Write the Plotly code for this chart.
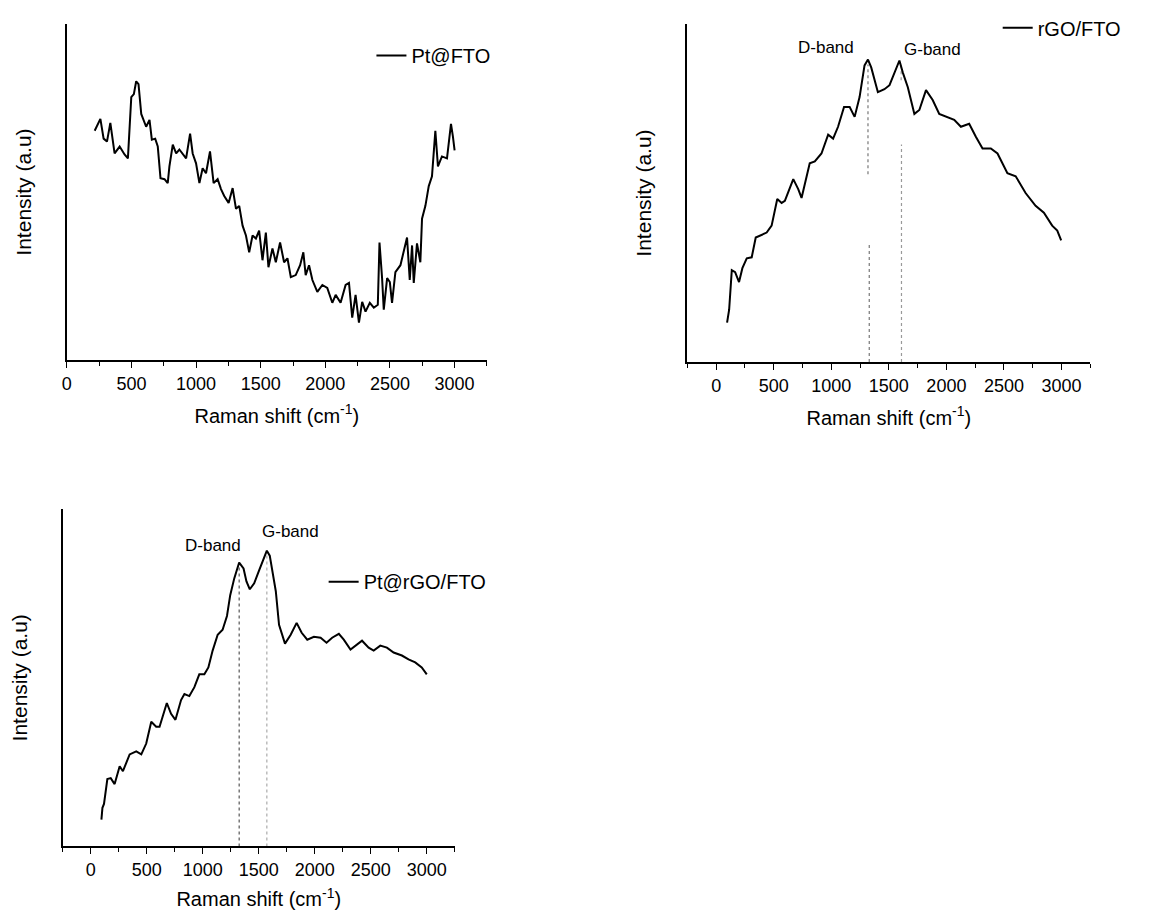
import plotly.graph_objects as go

# ---------------- data ----------------
# Panel 1: Pt@FTO
pt_fto_x = [216, 260, 285, 311, 337, 370, 409, 447, 473, 499, 519, 537, 555, 576, 614, 640, 658, 684, 704, 725,
            756, 781, 794, 820, 846, 871, 923, 954, 974, 1000, 1026, 1051, 1077, 1108, 1136, 1167, 1193, 1218,
            1252, 1283, 1309, 1334, 1360, 1386, 1411, 1437, 1463, 1488, 1514, 1540, 1560, 1591, 1617, 1650,
            1681, 1707, 1733, 1771, 1805, 1830, 1848, 1874, 1900, 1938, 1977, 2015, 2054, 2080, 2118, 2157,
            2183, 2208, 2234, 2260, 2285, 2311, 2344, 2375, 2406, 2419, 2439, 2452, 2478, 2499, 2516, 2542,
            2581, 2607, 2632, 2653, 2671, 2684, 2709, 2735, 2748, 2774, 2800, 2825, 2851, 2871, 2902, 2941,
            2972, 2987, 3000]
pt_fto_y = [232, 244, 224, 221, 240, 209, 216, 208, 204, 266, 269, 282, 279, 249, 236, 243, 223, 224, 216, 184,
            183, 179, 196, 218, 209, 213, 204, 229, 209, 199, 179, 194, 189, 211, 179, 183, 173, 166,
            159, 174, 153, 156, 136, 126, 109, 126, 123, 131, 101, 129, 94, 113, 99, 119,
            99, 103, 84, 86, 96, 109, 86, 96, 81, 69, 76, 73, 58, 66, 58, 76,
            78, 43, 66, 38, 59, 49, 58, 53, 56, 119, 83, 51, 83, 79, 58, 89,
            96, 109, 124, 81, 116, 78, 118, 99, 143, 156, 176, 186, 232, 196, 206, 204,
            239, 226, 212]

# Panel 2: rGO/FTO
rgo_fto_x = [95, 113, 136, 165, 199, 228, 266, 309, 344, 389, 439, 482, 531, 569, 597, 670, 713, 742, 813, 857,
             915, 973, 1016, 1059, 1111, 1160, 1203, 1246, 1289, 1319, 1347, 1405, 1462, 1506, 1549, 1592,
             1621, 1665, 1722, 1765, 1823, 1881, 1938, 2011, 2068, 2126, 2198, 2256, 2314, 2386, 2444, 2530,
             2602, 2688, 2775, 2847, 2919, 2963, 2997]
rgo_fto_y = [40, 53, 93, 91, 81, 95, 105, 106, 126, 128, 131, 138, 165, 161, 163, 185, 175, 166, 201, 203,
             211, 230, 226, 238, 258, 258, 248, 268, 300, 306, 298, 273, 276, 280, 293, 305,
             293, 278, 251, 255, 275, 265, 251, 248, 245, 238, 241, 228, 216, 216, 211, 191,
             188, 171, 158, 151, 138, 133, 123]

# Panel 3: Pt@rGO/FTO
pt_rgo_x = [95, 104, 118, 148, 178, 213, 258, 287, 347, 406, 451, 495, 540, 584, 614, 679, 717, 756, 806, 836,
            880, 925, 969, 1014, 1050, 1088, 1133, 1177, 1216, 1245, 1281, 1325, 1364, 1390, 1420, 1459,
            1503, 1548, 1572, 1598, 1622, 1652, 1681, 1734, 1785, 1838, 1883, 1933, 1992, 2052, 2105, 2155,
            2215, 2259, 2319, 2363, 2422, 2481, 2526, 2585, 2644, 2704, 2778, 2837, 2897, 2955, 3000]
pt_rgo_y = [27, 39, 43, 68, 69, 63, 81, 76, 93, 96, 93, 104, 126, 121, 121, 145, 134, 128, 148, 154,
            152, 161, 174, 174, 181, 198, 214, 219, 233, 254, 271, 287, 281, 268, 260, 266,
            279, 293, 299, 294, 279, 258, 224, 205, 214, 226, 216, 209, 212, 211, 206, 211,
            215, 209, 199, 203, 208, 201, 198, 203, 201, 196, 193, 189, 186, 181, 174]

# band markers: (position, top, bottom) of dotted lines
rgo_d_band = [(1319, 301, 190), (1330, 121, 0)]
rgo_g_band = [(1607, 300, 285), (1610, 220, 0)]
ptrgo_d_band = [(1325, 287, 0)]
ptrgo_g_band = [(1572, 299, 0)]

x_ticks = [0, 500, 1000, 1500, 2000, 2500, 3000]
x_title = "Raman shift (cm<sup>-1</sup>)"
y_title = "Intensity (a.u)"

# ---------------- figure ----------------
OFF = 8                     # page (body) margin of the html page
W, H = 1165 - 2 * OFF, 918 - 2 * OFF
FONT = "Arial, Liberation Sans, sans-serif"

fig = go.Figure()

fig.add_trace(go.Scatter(x=pt_fto_x, y=pt_fto_y, mode="lines", name="Pt@FTO",
                         line=dict(color="black", width=2), xaxis="x", yaxis="y", legend="legend"))
fig.add_trace(go.Scatter(x=rgo_fto_x, y=rgo_fto_y, mode="lines", name="rGO/FTO",
                         line=dict(color="black", width=2), xaxis="x2", yaxis="y2", legend="legend2"))
fig.add_trace(go.Scatter(x=pt_rgo_x, y=pt_rgo_y, mode="lines", name="Pt@rGO/FTO",
                         line=dict(color="black", width=2), xaxis="x3", yaxis="y3", legend="legend3"))


def px_x(p):
    return (p - OFF) / W


def px_y(p):
    return 1 - (p - OFF) / H


def xaxis(domain, rng, anchor):
    return dict(domain=domain, range=rng, anchor=anchor, showline=True, linecolor="black", linewidth=1.6,
                ticks="outside", ticklen=6, tickwidth=1.3, tickcolor="black",
                tickvals=x_ticks, showgrid=False, zeroline=False,
                minor=dict(dtick=250, tick0=0, ticks="outside", ticklen=4, tickwidth=1.2, tickcolor="black"),
                tickfont=dict(size=18, color="black", family=FONT),
                title=dict(text=x_title, font=dict(size=20, color="black", family=FONT), standoff=16))


def yaxis(domain, rng, anchor):
    return dict(domain=domain, range=rng, anchor=anchor, showline=True, linecolor="black", linewidth=1.6,
                showticklabels=False, ticks="", showgrid=False, zeroline=False,
                title=dict(text=y_title, font=dict(size=21, color="black", family=FONT), standoff=28))


leg_font = dict(size=20, family=FONT, color="black")
fig.update_layout(
    width=W, height=H,
    margin=dict(l=0, r=0, t=0, b=0),
    paper_bgcolor="white", plot_bgcolor="white",
    font=dict(family=FONT, color="black"),
    xaxis=xaxis([px_x(62), px_x(484)], [0, 3250], "y"),
    yaxis=yaxis([px_y(356), px_y(16)], [0, 340], "x"),
    xaxis2=xaxis([px_x(685.3), px_x(1090)], [-250, 3250], "y2"),
    yaxis2=yaxis([px_y(358), px_y(16)], [0, 342], "x2"),
    xaxis3=xaxis([px_x(58), px_x(451.7)], [-250, 3250], "y3"),
    yaxis3=yaxis([px_y(847.7), px_y(506.7)], [0, 341], "x3"),
    legend=dict(x=px_x(368), y=px_y(48), xanchor="left", yanchor="middle",
                bgcolor="rgba(0,0,0,0)", font=leg_font),
    legend2=dict(x=px_x(997), y=px_y(20), xanchor="left", yanchor="middle",
                 bgcolor="rgba(0,0,0,0)", font=leg_font),
    legend3=dict(x=px_x(320), y=px_y(580), xanchor="left", yanchor="middle",
                 bgcolor="rgba(0,0,0,0)", font=leg_font),
    showlegend=True,
)


def band_lines(bands, xref, yref, color):
    for pos, top, bottom in bands:
        fig.add_shape(type="line", xref=xref, yref=yref, x0=pos, x1=pos, y0=bottom, y1=top,
                      line=dict(color=color, width=1.2, dash="dot"), layer="below")


band_lines(rgo_d_band, "x2", "y2", "#777777")
band_lines(rgo_g_band, "x2", "y2", "#999999")
band_lines(ptrgo_d_band, "x3", "y3", "#555555")
band_lines(ptrgo_g_band, "x3", "y3", "#aaaaaa")

ann_font = dict(size=17, color="black", family=FONT)
fig.add_annotation(x=958, y=318, xref="x2", yref="y2", text="D-band", showarrow=False, font=ann_font)
fig.add_annotation(x=1881, y=316, xref="x2", yref="y2", text="G-band", showarrow=False, font=ann_font)
fig.add_annotation(x=1088, y=304, xref="x3", yref="y3", text="D-band", showarrow=False, font=ann_font)
fig.add_annotation(x=1785, y=318, xref="x3", yref="y3", text="G-band", showarrow=False, font=ann_font)

fig.write_html("out.html")
